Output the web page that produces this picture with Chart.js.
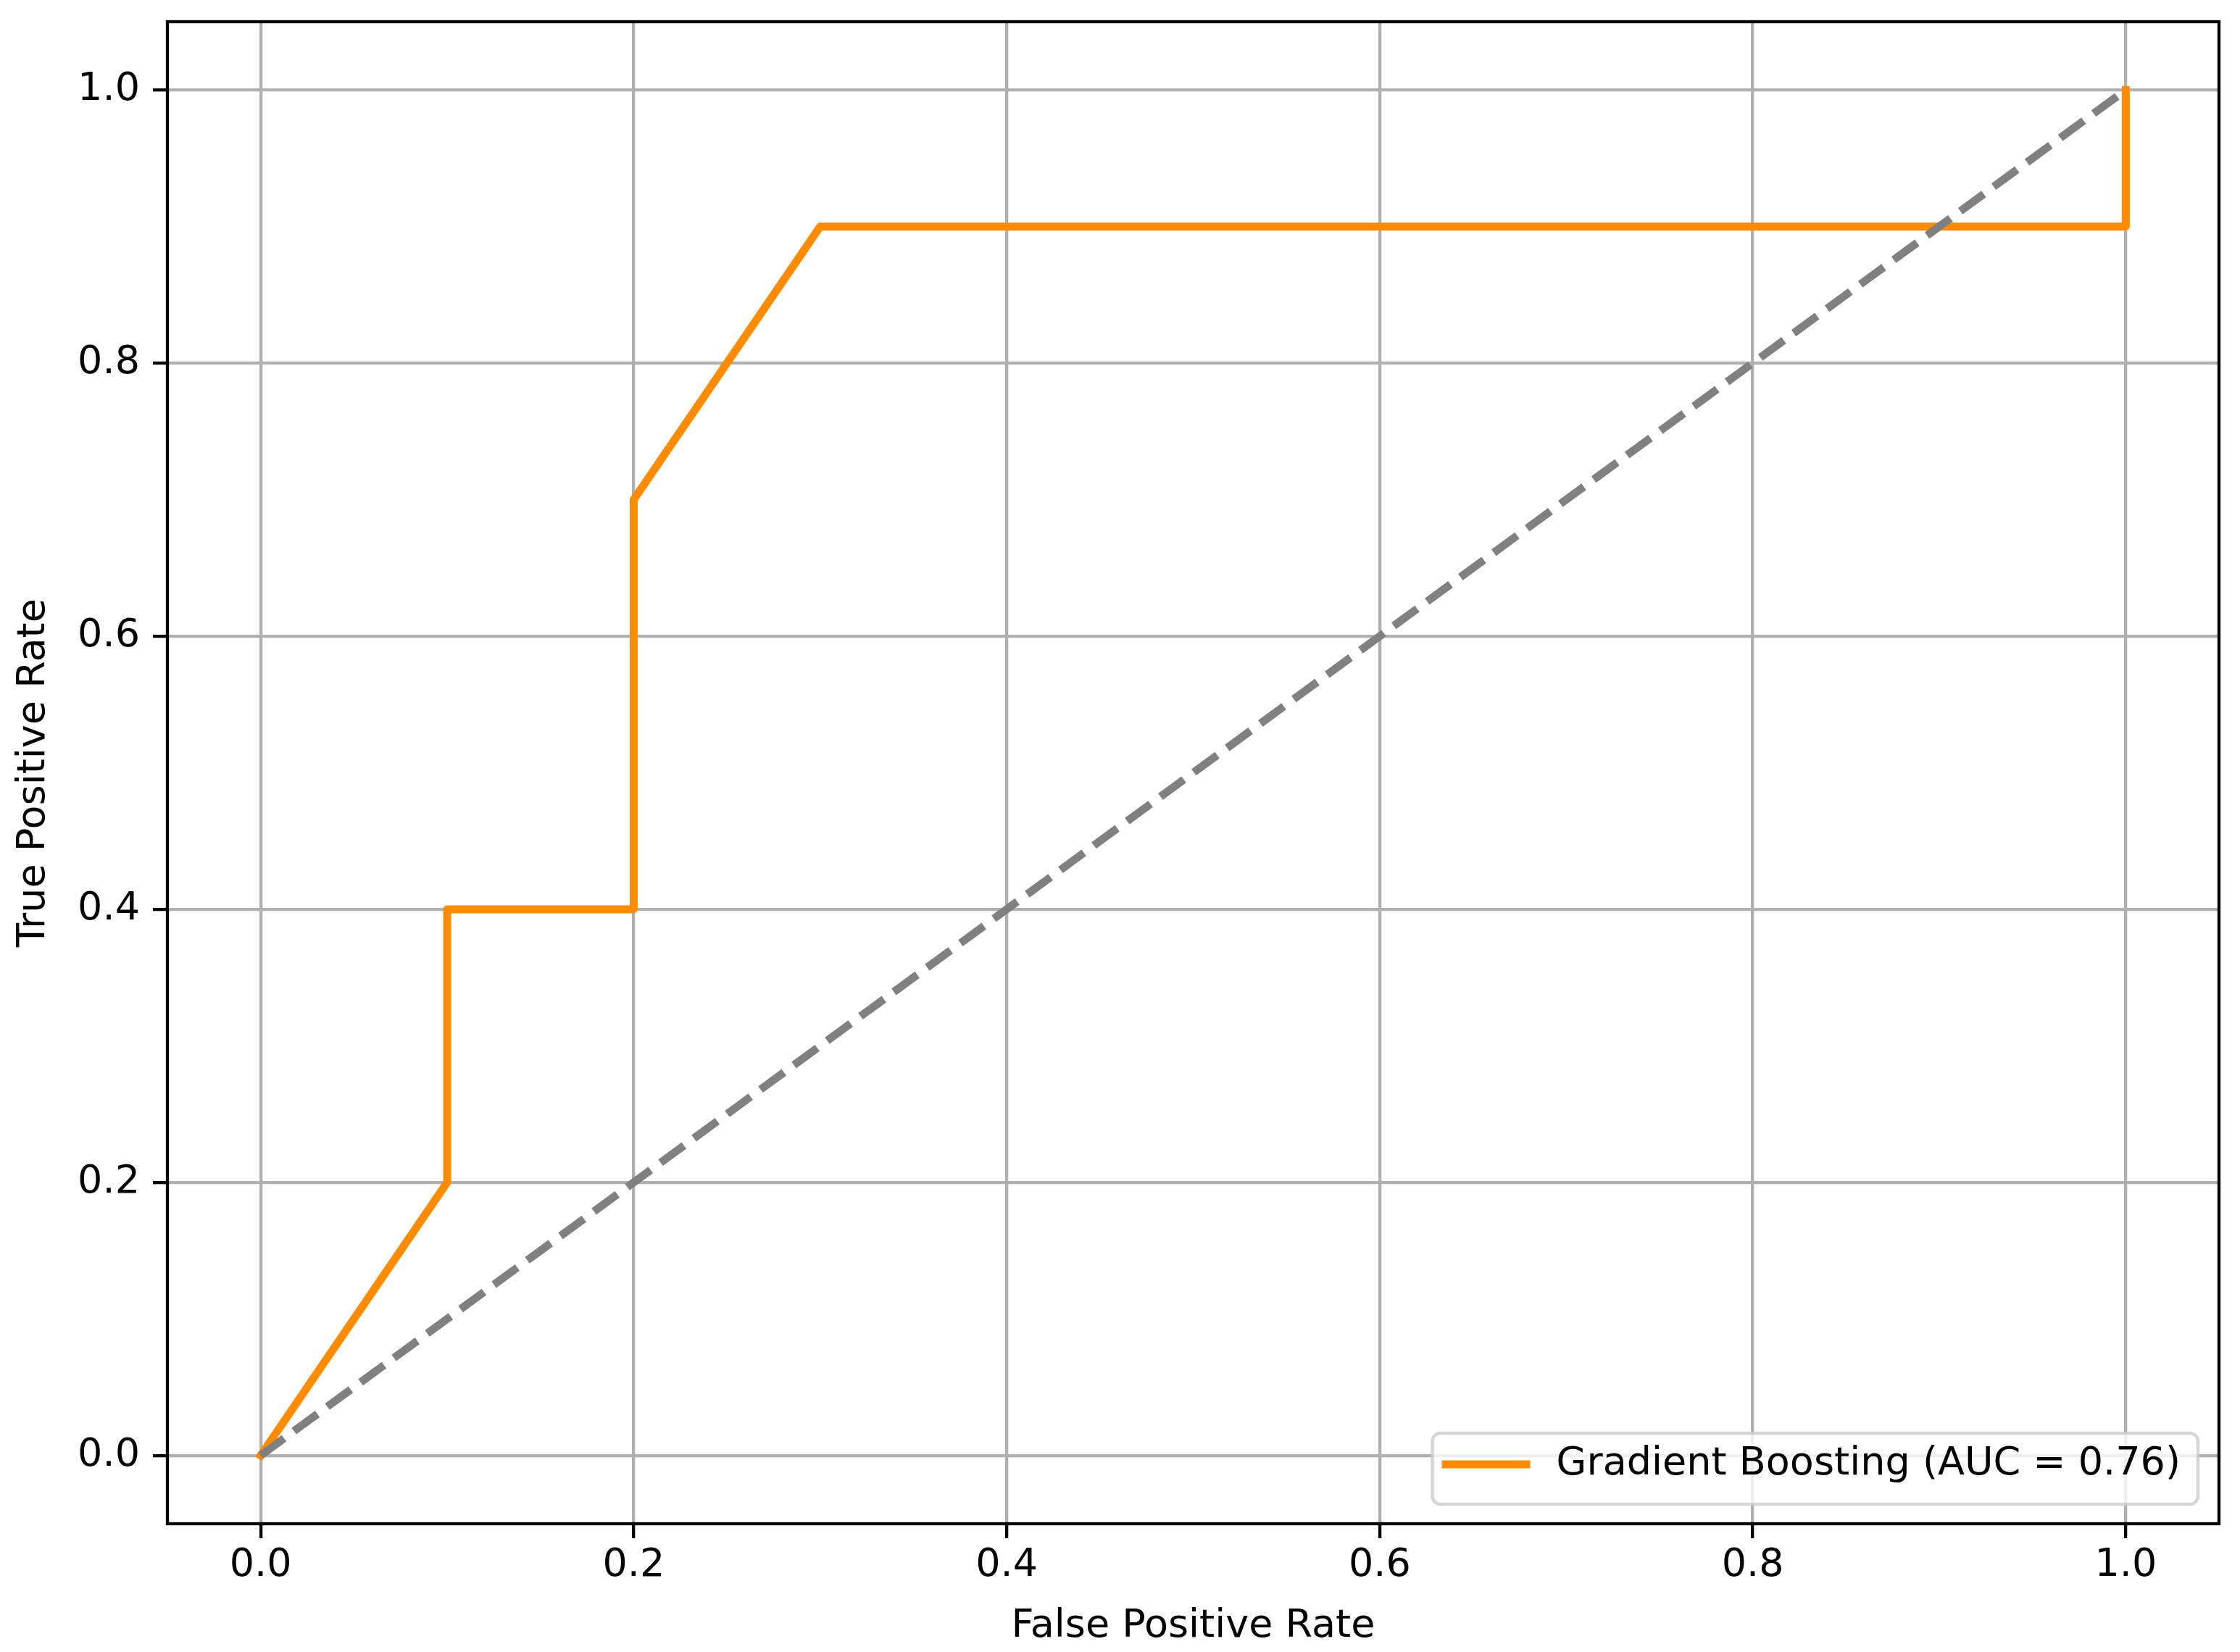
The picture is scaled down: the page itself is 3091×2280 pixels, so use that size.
<!DOCTYPE html>
<html>
<head>
<meta charset="utf-8">
<script src="https://cdn.jsdelivr.net/npm/chart.js@4.4.0/dist/chart.umd.min.js"></script>
<style>
  html, body { margin: 0; padding: 0; background: #fff; }
  #rocChart { display: block; }
</style>
</head>
<body>
<canvas id="rocChart" width="3091" height="2280"></canvas>
<script>
// ROC curve points
const fpr = [0, 0.1, 0.1, 0.2, 0.2, 0.3, 1.0, 1.0];
const tpr = [0, 0.2, 0.4, 0.4, 0.7, 0.9, 0.9, 1.0];
const chanceX = [0, 1];
const chanceY = [0, 1];
const curveLabel = "Gradient Boosting (AUC = 0.76)";
const xTicks = [0, 0.2, 0.4, 0.6, 0.8, 1.0];
const yTicks = [0, 0.2, 0.4, 0.6, 0.8, 1.0];

const FONT = "DejaVu Sans";
const FS = 54;
Chart.defaults.font.family = FONT;
Chart.defaults.font.size = FS;
Chart.defaults.color = "#000";

// marco de los ejes (las 4 lineas)
const framePlugin = {
  id: "frame",
  afterDatasetsDraw(chart) {
    const { ctx, chartArea: a } = chart;
    ctx.save();
    ctx.strokeStyle = "#000";
    ctx.lineWidth = 4.3;
    ctx.strokeRect(a.left, a.top, a.right - a.left, a.bottom - a.top);
    ctx.restore();
  },
};

// leyenda abajo a la derecha, dentro del area
const legendBox = {
  id: "legendBox",
  afterDraw(chart) {
    const { ctx, chartArea: a } = chart;
    const ds = chart.data.datasets[0];
    ctx.save();
    ctx.font = FS + "px '" + FONT + "'";
    const textW = ctx.measureText(ds.label).width;
    const w = 171 + textW + 24;
    const h = 98;
    const right = a.right - 29;
    const bottom = a.bottom - 27;
    const left = right - w;
    const top = bottom - h;
    const r = 11;

    ctx.beginPath();
    ctx.roundRect(left, top, w, h, r);
    ctx.fillStyle = "rgba(255,255,255,0.8)";
    ctx.fill();
    ctx.lineWidth = 4.5;
    ctx.strokeStyle = "rgba(204,204,204,0.8)";
    ctx.stroke();

    const cy = top + 43;
    ctx.beginPath();
    ctx.moveTo(left + 13, cy);
    ctx.lineTo(left + 135, cy);
    ctx.lineWidth = ds.borderWidth;
    ctx.strokeStyle = ds.borderColor;
    ctx.lineCap = "butt";
    ctx.stroke();

    ctx.fillStyle = "#000";
    ctx.textBaseline = "middle";
    ctx.textAlign = "left";
    ctx.fillText(ds.label, left + 171, cy);
    ctx.restore();
  },
};

const ctx = document.getElementById("rocChart").getContext("2d");
new Chart(ctx, {
  type: "scatter",
  data: {
    datasets: [
      {
        label: curveLabel,
        data: fpr.map((x, i) => ({ x: x, y: tpr[i] })),
        showLine: true,
        borderColor: "#ff8c00",
        backgroundColor: "#ff8c00",
        borderWidth: 11,
        borderJoinStyle: "round",
        borderCapStyle: "square",
        pointRadius: 0,
        tension: 0,
        order: 2,
      },
      {
        label: "chance",
        data: chanceX.map((x, i) => ({ x: x, y: chanceY[i] })),
        showLine: true,
        borderColor: "#808080",
        borderWidth: 11,
        borderDash: [40, 17],
        borderCapStyle: "butt",
        pointRadius: 0,
        tension: 0,
        order: 1,
      },
    ],
  },
  options: {
    responsive: false,
    animation: false,
    devicePixelRatio: 1,
    layout: { padding: { left: 0, right: 29, top: 30, bottom: 0 } },
    plugins: {
      legend: { display: false },
      tooltip: { enabled: false },
    },
    scales: {
      x: {
        type: "linear",
        min: -0.05,
        max: 1.05,
        afterFit: (scale) => {
          scale.height = 177;
          scale.paddingLeft = 0;
          scale.paddingRight = 0;
        },
        afterBuildTicks: (scale) => { scale.ticks = xTicks.map((v) => ({ value: v })); },
        grid: {
          color: "#b0b0b0",
          lineWidth: 4.3,
          tickColor: "#000",
          tickWidth: 4.3,
          tickLength: 20,
        },
        border: { display: false },
        ticks: {
          padding: 6,
          maxRotation: 0,
          color: "#000",
          font: { size: FS },
          callback: (v) => Number(v).toFixed(1),
        },
        title: {
          display: true,
          text: "False Positive Rate",
          color: "#000",
          font: { size: FS },
          padding: { top: 0, bottom: 3 },
        },
      },
      y: {
        type: "linear",
        min: -0.05,
        max: 1.05,
        afterFit: (scale) => {
          scale.width = 231;
          scale.paddingTop = 0;
          scale.paddingBottom = 0;
        },
        afterBuildTicks: (scale) => { scale.ticks = yTicks.map((v) => ({ value: v })); },
        grid: {
          color: "#b0b0b0",
          lineWidth: 4.3,
          tickColor: "#000",
          tickWidth: 4.3,
          tickLength: 20,
        },
        border: { display: false },
        ticks: {
          padding: 18,
          color: "#000",
          font: { size: FS },
          callback: (v) => Number(v).toFixed(1),
        },
        title: {
          display: true,
          text: "True Positive Rate",
          color: "#000",
          font: { size: FS },
          padding: { top: 15, bottom: 0 },
        },
      },
    },
  },
  plugins: [framePlugin, legendBox],
});
</script>
</body>
</html>
